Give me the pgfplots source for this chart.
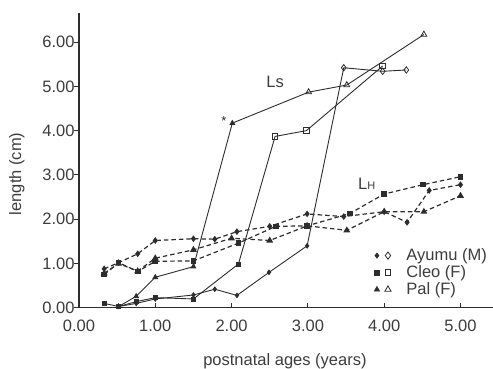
\documentclass[border=0pt]{standalone}
\usepackage{fontspec}
\setmainfont{Liberation Sans}
\usepackage{pgfplots}
\usepackage{pgfplotstable}
\pgfplotsset{compat=1.18}
\definecolor{ink}{RGB}{45,45,45}
\definecolor{txt}{RGB}{60,60,60}

\pgfplotstableread{
x y
0.52 0.03
0.75 0.10
1.00 0.20
1.50 0.29
1.78 0.42
2.07 0.28
2.49 0.80
2.99 1.40
3.47 5.42
3.98 5.34
4.29 5.37
}\ayumuLs
\pgfplotstableread{
x y
0.33 0.10
0.52 0.03
0.75 0.14
1.00 0.23
1.50 0.20
2.09 0.99
2.57 3.87
2.98 4.00
3.98 5.46
}\cleoLs
\pgfplotstableread{
x y
0.52 0.03
0.75 0.26
1.00 0.69
1.50 0.93
2.01 4.17
3.01 4.87
3.51 5.03
4.52 6.17
}\palLs
\pgfplotstableread{
x y
0.33 0.88
0.52 1.02
0.77 1.22
1.00 1.52
1.50 1.56
1.78 1.55
2.07 1.72
2.50 1.84
2.99 2.12
3.47 2.06
4.00 2.17
4.30 1.93
4.59 2.65
5.00 2.78
}\ayumuLH
\pgfplotstableread{
x y
0.33 0.75
0.52 1.02
0.77 0.82
1.00 1.05
1.50 1.06
2.09 1.46
2.58 1.84
2.99 1.85
3.55 2.13
4.00 2.57
4.51 2.78
5.00 2.96
}\cleoLH
\pgfplotstableread{
x y
0.33 0.78
0.52 1.00
0.77 0.83
1.00 1.12
1.50 1.31
2.00 1.57
2.50 1.52
2.99 1.85
3.51 1.75
4.00 2.17
4.52 2.17
5.00 2.53
}\palLH

\begin{document}
\begin{tikzpicture}[font=\fontsize{16.5}{19}\selectfont]
\begin{axis}[
  scale only axis, width=413.6pt, height=295pt,
  xmin=0, xmax=5.42, ymin=0, ymax=6.66,
  axis x line=bottom, axis y line=left,
  axis line style={-, ink, line width=1.1pt},
  xtick={0,1,2,3,4,5}, ytick={0,1,2,3,4,5,6},
  tick align=inside,
  major tick length=5pt,
  tick style={ink, line width=1pt},
  y tick style={xshift=-5pt},
  xticklabel style={text=txt, yshift=-9pt},
  yticklabel style={text=txt, xshift=-1pt},
  /pgf/number format/.cd, fixed, fixed zerofill, precision=2, assume math mode=true,
  /pgfplots/.cd,
  xlabel={postnatal ages (years)},
  ylabel={length (cm)},
  xlabel style={at={(axis description cs:0.498,-0.196)}, anchor=base, text=txt},
  ylabel style={at={(axis description cs:-0.150,0.454)}, anchor=center, text=txt},
  legend style={at={(axis cs:3.85,1.37)}, anchor=north west, draw=none, fill=none,
    row sep=0.5pt, inner sep=0pt, nodes={inner sep=1.5pt, text=txt}},
  legend cell align=left,
  clip=false,
]
\addlegendimage{legend image code/.code={
  \path[draw=none,fill=none] (-4pt,-3pt) rectangle (28pt,3pt);
  \path[draw=ink, fill=ink] plot[mark=diamond*, mark size=2.8pt] coordinates {(0pt,0pt)};
  \path[draw=ink, line width=0.8pt, fill=white] plot[mark=diamond, mark size=3.6pt] coordinates {(11pt,0pt)};}}
\addlegendentry{Ayumu (M)}
\addlegendimage{legend image code/.code={
  \path[draw=none,fill=none] (-4pt,-3pt) rectangle (28pt,3pt);
  \path[draw=ink, fill=ink] plot[mark=square*, mark size=2.4pt] coordinates {(0pt,0pt)};
  \path[draw=ink, line width=0.8pt, fill=white] plot[mark=square, mark size=2.8pt] coordinates {(11pt,0pt)};}}
\addlegendentry{Cleo (F)}
\addlegendimage{legend image code/.code={
  \path[draw=none,fill=none] (-4pt,-3pt) rectangle (28pt,3pt);
  \path[draw=ink, fill=ink] plot[mark=triangle*, mark size=3.2pt] coordinates {(0pt,0pt)};
  \path[draw=ink, line width=0.8pt, fill=white] plot[mark=triangle, mark size=3.6pt] coordinates {(11pt,0pt)};}}
\addlegendentry{Pal (F)}

% LH (dashed)
\addplot[forget plot, ink, line width=1.2pt, dash pattern=on 4.5pt off 3pt, mark=diamond*, mark size=2.4pt, mark options={solid}] table {\ayumuLH};
\addplot[forget plot, ink, line width=1.2pt, dash pattern=on 4.5pt off 3pt, mark=square*, mark size=2.2pt, mark options={solid}] table {\cleoLH};
\addplot[forget plot, ink, line width=1.2pt, dash pattern=on 4.5pt off 3pt, mark=triangle*, mark size=2.8pt, mark options={solid}] table {\palLH};

% Ls (solid)
\addplot[forget plot, ink, line width=0.9pt, mark=diamond*, mark size=2.2pt, mark indices={1,2,3,4,5,6,7,8}] table {\ayumuLs};
\addplot[forget plot, only marks, ink, line width=0.8pt, mark=diamond, mark size=3.2pt, mark options={fill=white}, mark indices={9,10,11}] table {\ayumuLs};
\addplot[forget plot, ink, line width=0.9pt, mark=square*, mark size=2pt, mark indices={1,2,3,4,5,6}] table {\cleoLs};
\addplot[forget plot, only marks, ink, line width=0.8pt, mark=square, mark size=2.8pt, mark options={fill=white}, mark indices={7,8,9}] table {\cleoLs};
\addplot[forget plot, ink, line width=0.9pt, mark=triangle*, mark size=2.6pt, mark indices={1,2,3,4,5}] table {\palLs};
\addplot[forget plot, only marks, ink, line width=0.8pt, mark=triangle, mark size=3.4pt, mark options={fill=white}, mark indices={6,7,8}] table {\palLs};

\node[text=txt] at (axis cs:2.57,5.10) {Ls};
\node[text=txt] at (axis cs:3.77,2.80) {L{\fontsize{11}{11}\selectfont H}};
\node[text=ink, font=\fontsize{13}{13}\selectfont] at (axis cs:1.90,4.22) {*};

\coordinate (BL) at (axis cs:-1.035,-1.377);
\coordinate (TR) at (axis cs:5.426,6.95);
\end{axis}
\pgfresetboundingbox
\path[use as bounding box] (BL) rectangle (TR);
\end{tikzpicture}
\end{document}
